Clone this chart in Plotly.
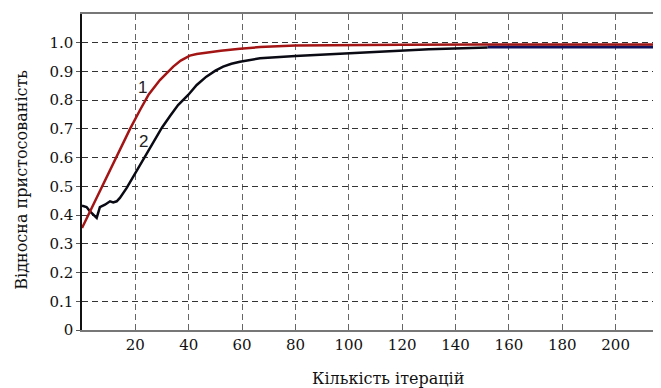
import plotly.graph_objects as go

# Curve 1 (red)
x1 = [0, 5, 10, 15, 18, 21.7, 25, 29.2, 32, 34.2, 37, 40.4, 43, 46.6, 52, 59.2, 66.7, 80, 100, 120, 150, 180, 217]
y1 = [0.355, 0.452, 0.55, 0.645, 0.70, 0.765, 0.82, 0.87, 0.897, 0.917, 0.938, 0.955, 0.961, 0.966, 0.972, 0.979, 0.985, 0.99, 0.992, 0.993, 0.994, 0.994, 0.994]

# Curve 2 (black)
x2 = [0, 1.7, 3, 4.9, 5.5, 6.7, 8.6, 10.5, 11.7, 13, 14.2, 16.7, 21.7, 26.7, 30, 33, 36, 39.8,
      43, 46.6, 50, 52.9, 56, 59.2, 66.7, 80, 100, 119, 130, 152]
y2 = [0.433, 0.428, 0.413, 0.396, 0.39, 0.428, 0.436, 0.448, 0.444, 0.448, 0.46, 0.494, 0.572,
      0.652, 0.705, 0.745, 0.783, 0.818, 0.853, 0.882, 0.903, 0.917, 0.927, 0.934, 0.946, 0.954,
      0.963, 0.974, 0.977, 0.983]

# Final plateau segment (navy)
x3 = [152, 217]
y3 = [0.985, 0.985]

x_ticks = [20, 40, 60, 80, 100, 120, 140, 160, 180, 200]
y_ticks = [0, 0.1, 0.2, 0.3, 0.4, 0.5, 0.6, 0.7, 0.8, 0.9, 1.0]
y_tick_text = ["0", "0.1", "0.2", "0.3", "0.4", "0.5", "0.6", "0.7", "0.8", "0.9", "1.0"]

fig = go.Figure()
fig.add_trace(go.Scatter(x=x3, y=y3, mode="lines", line=dict(color="#12125e", width=3), showlegend=False))
fig.add_trace(go.Scatter(x=x2, y=y2, mode="lines", line=dict(color="#0a0a14", width=2.5), showlegend=False))
fig.add_trace(go.Scatter(x=x1, y=y1, mode="lines", line=dict(color="#a31515", width=2.5), showlegend=False))

serif = "DejaVu Serif"
fig.add_annotation(x=22.7, y=0.845, text="1", showarrow=False,
                   font=dict(family="Liberation Sans", size=17, color="#222"))
fig.add_annotation(x=23, y=0.656, text="2", showarrow=False,
                   font=dict(family="Liberation Sans", size=17, color="#222"))
fig.add_annotation(xref="paper", yref="paper", x=0.528, y=-0.152, text="Кількість ітерацій",
                   showarrow=False, xanchor="center", yanchor="middle",
                   font=dict(family=serif, size=16, color="#111"))
fig.add_annotation(xref="paper", yref="paper", x=-0.104, y=0.475, text="Відносна пристосованість",
                   showarrow=False, textangle=-90, xanchor="center", yanchor="middle",
                   font=dict(family=serif, size=16, color="#111"))

fig.update_layout(
    width=653, height=380,
    margin=dict(l=74, r=0, t=6, b=58),
    plot_bgcolor="white", paper_bgcolor="white",
    font=dict(family=serif, size=15, color="#111"),
)
fig.update_xaxes(range=[0, 217], tickvals=x_ticks, showgrid=True, gridcolor="#666",
                 griddash="6px,4px", gridwidth=1, zeroline=False, showline=True,
                 linecolor="#777", linewidth=2, mirror=True, ticks="", ticklen=0)
fig.update_yaxes(range=[0, 1.1], tickvals=y_ticks, ticktext=y_tick_text, showgrid=True,
                 gridcolor="#333", griddash="6px,4px", gridwidth=1, zeroline=False,
                 showline=True, linecolor="#111", linewidth=1.5, ticks="outside",
                 ticklen=4, tickcolor="#555")

fig.write_html("out.html")
